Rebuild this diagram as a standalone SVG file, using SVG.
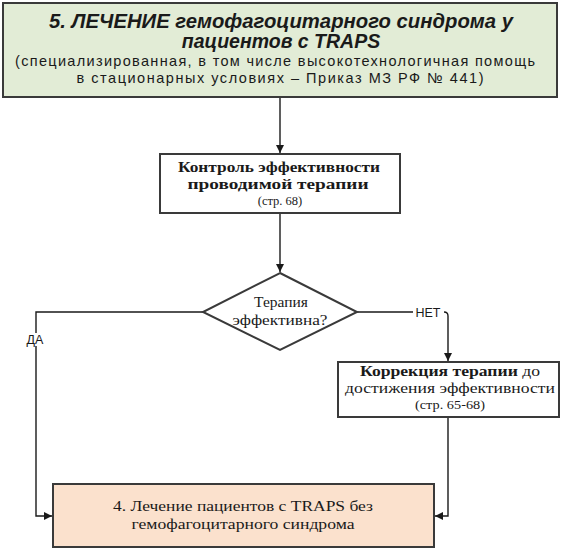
<svg xmlns="http://www.w3.org/2000/svg" width="564" height="551" viewBox="0 0 564 551">
<style>
.box{stroke:#3a3a3a;stroke-width:2}
.conn{fill:none;stroke:#1a1a1a;stroke-width:1.4}
.serif{font-family:"Liberation Serif","Times New Roman",serif;fill:#1a1a1a}
.sans{font-family:"Liberation Sans",Arial,sans-serif;fill:#1a1a1a}
</style>
<defs>
<marker id="arr" viewBox="0 0 10 10" refX="10" refY="5" markerWidth="8" markerHeight="8" markerUnits="userSpaceOnUse" orient="auto">
<path d="M0,0 L10,5 L0,10 z" fill="#1a1a1a"/>
</marker>
</defs>
<rect width="564" height="551" fill="#ffffff"/>

<g id="connectors">
<path class="conn" d="M280,97 V153" marker-end="url(#arr)"/>
<path class="conn" d="M280,213 V272" marker-end="url(#arr)"/>
<path class="conn" d="M357,312 H444 Q448,312 448,316 V361" marker-end="url(#arr)"/>
<path class="conn" d="M203,312 H36 V516 H52" marker-end="url(#arr)"/>
<path class="conn" d="M448,417 V516 H435" marker-end="url(#arr)"/>
<rect x="413" y="305" width="31" height="13" fill="#ffffff"/>
<text class="sans" x="428" y="317" font-size="12.5" text-anchor="middle">НЕТ</text>
<rect x="24" y="333" width="22" height="13" fill="#ffffff"/>
<text class="sans" x="35" y="344" font-size="12.5" text-anchor="middle">ДА</text>
</g>

<g id="node-title">
<rect class="box" x="3" y="3" width="554" height="94" fill="#e2ecd6"/>
<text class="sans" x="281" y="28" font-size="19.5" font-weight="bold" font-style="italic" text-anchor="middle" textLength="464" lengthAdjust="spacingAndGlyphs">5. ЛЕЧЕНИЕ гемофагоцитарного синдрома у</text>
<text class="sans" x="281" y="48" font-size="19.5" font-weight="bold" font-style="italic" text-anchor="middle">пациентов с TRAPS</text>
<text class="sans" x="275" y="66" font-size="14.5" text-anchor="middle" textLength="520" lengthAdjust="spacing">(специализированная, в том числе высокотехнологичная помощь</text>
<text class="sans" x="280" y="83" font-size="14.5" text-anchor="middle" textLength="407" lengthAdjust="spacing">в стационарных условиях – Приказ МЗ РФ № 441)</text>
</g>

<g id="node-control">
<rect class="box" x="160" y="154" width="240" height="59" fill="#ffffff"/>
<text class="serif" x="279" y="172" font-size="15" font-weight="bold" text-anchor="middle" textLength="202" lengthAdjust="spacingAndGlyphs">Контроль эффективности</text>
<text class="serif" x="278" y="189" font-size="15" font-weight="bold" text-anchor="middle" textLength="181" lengthAdjust="spacingAndGlyphs">проводимой терапии</text>
<text class="serif" x="280" y="205" font-size="12.5" text-anchor="middle">(стр. 68)</text>
</g>

<g id="node-decision">
<path class="box" d="M280,273 L357,312 L280,350 L203,312 z" fill="#ffffff" stroke-width="1.5"/>
<text class="serif" x="281" y="307" font-size="15.5" text-anchor="middle">Терапия</text>
<text class="serif" x="280" y="325" font-size="15.5" text-anchor="middle" textLength="95" lengthAdjust="spacingAndGlyphs">эффективна?</text>
</g>

<g id="node-correction">
<rect class="box" x="338" y="362" width="221" height="55" fill="#ffffff"/>
<text class="serif" x="450" y="376" font-size="15" text-anchor="middle" textLength="180" lengthAdjust="spacingAndGlyphs"><tspan font-weight="bold">Коррекция терапии</tspan> до</text>
<text class="serif" x="450" y="393" font-size="15" text-anchor="middle" textLength="210" lengthAdjust="spacingAndGlyphs">достижения эффективности</text>
<text class="serif" x="450" y="409" font-size="12.5" text-anchor="middle" textLength="70" lengthAdjust="spacingAndGlyphs">(стр. 65-68)</text>
</g>

<g id="node-treatment">
<rect class="box" x="53" y="484" width="381" height="63" fill="#fbe1cd"/>
<text class="serif" x="243" y="511" font-size="15" text-anchor="middle" textLength="260" lengthAdjust="spacingAndGlyphs">4. Лечение пациентов с TRAPS без</text>
<text class="serif" x="243" y="529" font-size="15" text-anchor="middle" textLength="223" lengthAdjust="spacingAndGlyphs">гемофагоцитарного синдрома</text>
</g>
</svg>
